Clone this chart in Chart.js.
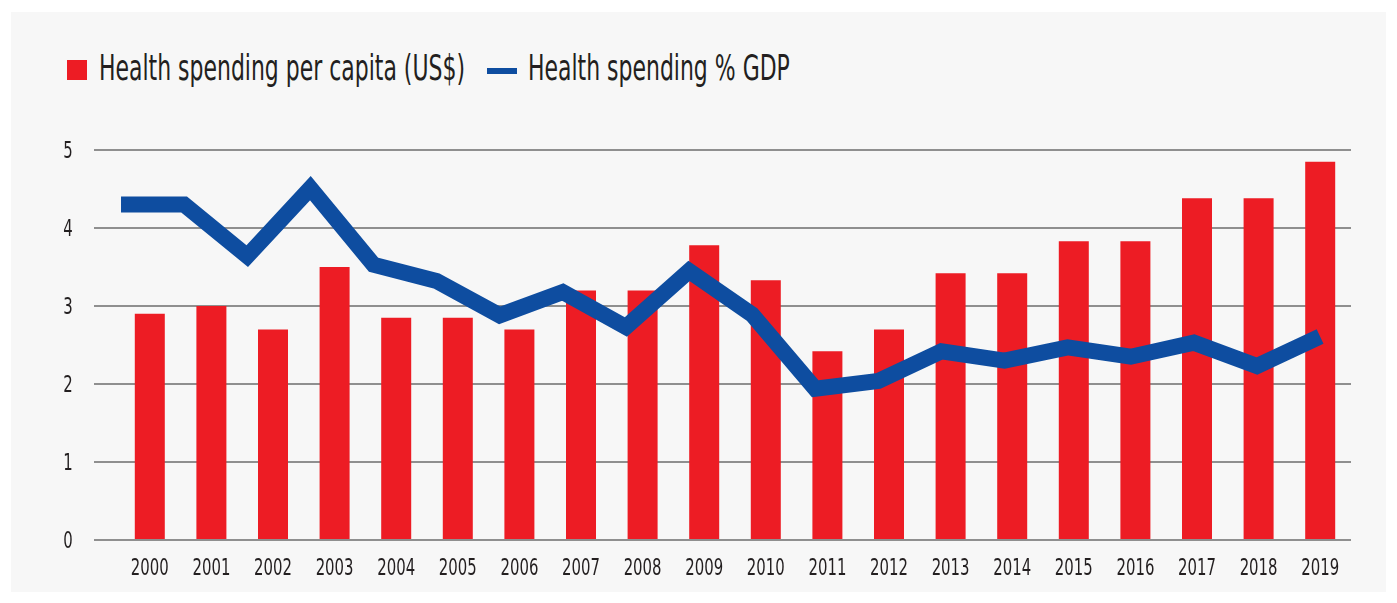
<!DOCTYPE html>
<html lang="en">
<head>
    <meta charset="UTF-8">
    <title>Health spending</title>
    <script src="https://cdn.jsdelivr.net/npm/chart.js"></script>
    <style>
        html, body {
            margin: 0;
            padding: 0;
            background: #ffffff;
        }
        body {
            position: relative;
            width: 1397px;
            height: 603px;
            overflow: hidden;
            font-family: "DejaVu Sans Condensed", "DejaVu Sans", sans-serif;
            color: #231f20;
        }
        /* grey card behind the chart */
        .panel {
            position: absolute;
            left: 11px;
            top: 12px;
            width: 1375px;
            height: 580px;
            background: #f7f7f7;
        }
        /* legend: squeezed text to get a narrow face */
        .legend-text {
            position: absolute;
            top: 50px;
            font-size: 36px;
            line-height: 1;
            white-space: nowrap;
            transform: scaleX(0.678);
            transform-origin: left center;
        }
        .legend-box {
            position: absolute;
            left: 67px;
            top: 60px;
            width: 20px;
            height: 20px;
            background: #ed1c24;
        }
        .legend-dash {
            position: absolute;
            left: 487px;
            top: 68px;
            width: 30px;
            height: 6px;
            background: #0e4da0;
        }
        #chart {
            position: absolute;
            left: 0;
            top: 0;
        }
    </style>
</head>
<body>
    <div class="panel"></div>
    <span class="legend-box"></span>
    <span class="legend-text" style="left: 99px;">Health spending per capita (US$)</span>
    <span class="legend-dash"></span>
    <span class="legend-text" style="left: 528px;">Health spending % GDP</span>
    <canvas id="chart" width="1397" height="603"></canvas>

    <script>
        // yearly values
        var years = ['2000', '2001', '2002', '2003', '2004', '2005', '2006', '2007', '2008', '2009',
                     '2010', '2011', '2012', '2013', '2014', '2015', '2016', '2017', '2018', '2019'];
        var perCapita = [2.9, 3.0, 2.7, 3.5, 2.85, 2.85, 2.7, 3.2, 3.2, 3.78,
                         3.33, 2.42, 2.7, 3.42, 3.42, 3.83, 3.83, 4.38, 4.38, 4.85];
        var pctGdp = [4.3, 4.3, 3.64, 4.51, 3.53, 3.32, 2.88, 3.18, 2.73, 3.45,
                      2.89, 1.94, 2.04, 2.42, 2.3, 2.47, 2.35, 2.53, 2.23, 2.61];
        var yMin = 0, yMax = 5, yStep = 1;

        var textColor = '#231f20';
        var tickFamily = '"DejaVu Sans Condensed", "DejaVu Sans", sans-serif';
        var tickSize = 23;
        var squeeze = 0.72;

        // tick labels drawn narrower than the installed fonts allow
        function drawSqueezed(c, text, x, y) {
            c.save();
            c.translate(x, y);
            c.scale(squeeze, 1);
            c.fillText(text, 0, 0);
            c.restore();
        }

        var squeezedTicks = {
            id: 'squeezedTicks',
            afterDraw: function (chart) {
                var c = chart.ctx;
                var xs = chart.scales.x;
                var ys = chart.scales.y;
                c.save();
                c.fillStyle = textColor;
                c.font = tickSize + 'px ' + tickFamily;
                c.textAlign = 'center';
                c.textBaseline = 'alphabetic';
                xs.ticks.forEach(function (t, i) {
                    drawSqueezed(c, xs.getLabelForValue(t.value), xs.getPixelForTick(i), xs.top + 35);
                });
                ys.ticks.forEach(function (t, i) {
                    drawSqueezed(c, String(t.value), ys.left + 5, ys.getPixelForTick(i) + 8);
                });
                c.restore();
            }
        };

        var ctx = document.getElementById('chart').getContext('2d');
        var chart = new Chart(ctx, {
            type: 'bar',
            data: {
                labels: years,
                datasets: [
                    {
                        type: 'line',
                        label: 'Health spending % GDP',
                        // the line sits on its own index axis, a little wider than the bar slots
                        data: pctGdp.map(function (v, i) { return { x: i, y: v }; }),
                        xAxisID: 'xLine',
                        borderColor: '#0e4da0',
                        borderWidth: 16,
                        borderJoinStyle: 'miter',
                        borderCapStyle: 'butt',
                        pointRadius: 0,
                        tension: 0,
                        fill: false,
                        order: 0
                    },
                    {
                        label: 'Health spending per capita (US$)',
                        data: perCapita,
                        backgroundColor: '#ed1c24',
                        grouped: false,
                        barPercentage: 0.487,
                        categoryPercentage: 1,
                        order: 1
                    }
                ]
            },
            options: {
                responsive: false,
                animation: false,
                layout: {
                    padding: { left: 63, right: 46, top: 150, bottom: 23 }
                },
                plugins: {
                    legend: { display: false },
                    tooltip: { enabled: false }
                },
                scales: {
                    x: {
                        type: 'category',
                        offset: true,
                        grid: { display: false, drawTicks: false },
                        border: { display: false },
                        ticks: { display: false, autoSkip: false, maxRotation: 0 },
                        afterFit: function (scale) { scale.height = 40; }
                    },
                    xLine: {
                        type: 'linear',
                        display: false,
                        offset: false,
                        grid: { offset: false },
                        min: -0.032,
                        max: 19.49
                    },
                    y: {
                        min: yMin,
                        max: yMax,
                        ticks: { display: false, stepSize: yStep },
                        grid: {
                            color: '#8f8f8f',
                            lineWidth: 2,
                            drawTicks: true,
                            tickLength: 25
                        },
                        border: { display: false },
                        afterFit: function (scale) { scale.width = 56; }
                    }
                }
            },
            plugins: [squeezedTicks]
        });
    </script>
</body>
</html>
